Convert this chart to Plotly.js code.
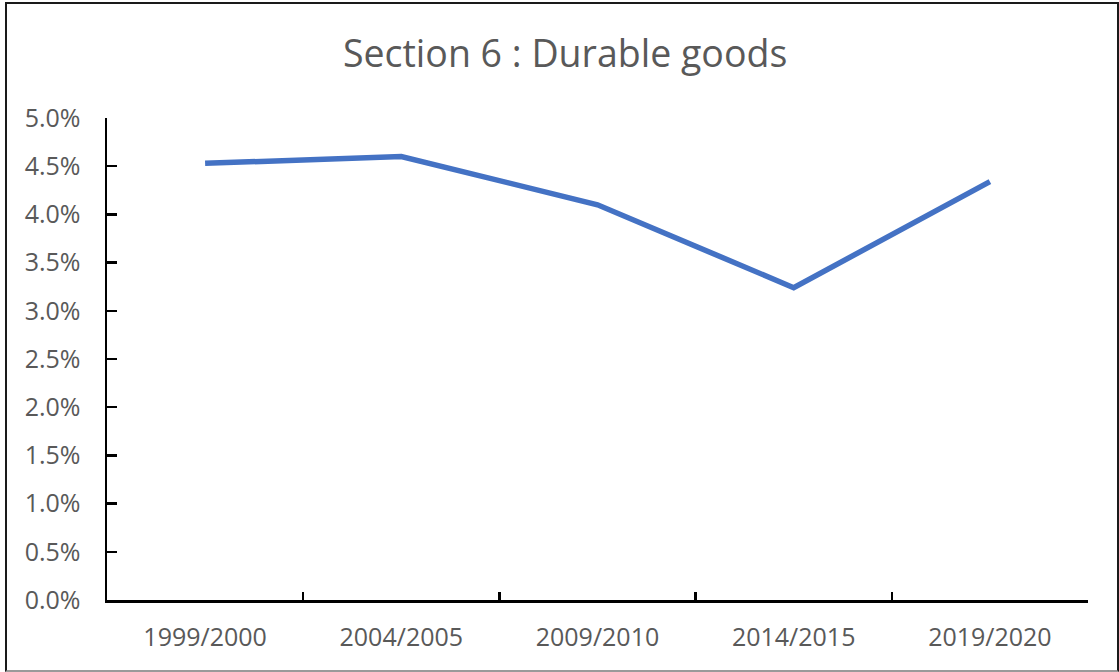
<!DOCTYPE html>
<html>
<head>
<meta charset="utf-8">
<script src="https://cdn.plot.ly/plotly-3.0.1.min.js"></script>
<style>
html,body{margin:0;padding:0;background:#fff;}
#wrap{position:relative;width:1119px;height:672px;}
#chart{position:absolute;left:0;top:0;width:1119px;height:672px;}
#frame{position:absolute;left:5px;top:2px;width:1110px;height:666px;border:2px solid #1a1a1a;border-bottom-color:#9a9a9a;pointer-events:none;box-sizing:content-box;}
</style>
</head>
<body>
<div id="wrap"><div id="chart"></div><div id="frame"></div></div>
<script>
const categories = ["1999/2000", "2004/2005", "2009/2010", "2014/2015", "2019/2020"];
const shareValues = [0.0453, 0.0460, 0.0410, 0.0324, 0.0434];
const chartTitle = "Section 6 : Durable goods";

const trace = {
  type: "scatter",
  mode: "lines",
  x: categories,
  y: shareValues,
  line: {color: "#4472C4", width: 5.5},
  hoverinfo: "x+y"
};

const layout = {
  width: 1119,
  height: 672,
  margin: {l: 107, r: 31, t: 118, b: 72},
  paper_bgcolor: "#ffffff",
  plot_bgcolor: "#ffffff",
  showlegend: false,
  font: {family: "Open Sans, sans-serif", color: "#595959"},
  title: {
    text: chartTitle,
    font: {family: "Open Sans, sans-serif", size: 37.5, color: "#595959"},
    x: 0.505, xanchor: "center", xref: "container",
    y: 1 - 54/672, yanchor: "middle", yref: "container"
  },
  xaxis: {
    type: "category",
    range: [-0.5, 4.5],
    showgrid: false,
    zeroline: false,
    showline: true,
    linecolor: "#000000",
    linewidth: 2.5,
    ticks: "inside",
    tickson: "boundaries",
    ticklen: 8,
    tickwidth: 2.5,
    tickcolor: "#000000",
    ticklabelstandoff: 13,
    tickfont: {family: "Open Sans, sans-serif", size: 25, color: "#595959"}
  },
  yaxis: {
    range: [0, 0.05],
    dtick: 0.005,
    tick0: 0,
    tickformat: ".1%",
    showgrid: false,
    zeroline: false,
    showline: true,
    linecolor: "#000000",
    linewidth: 2.5,
    ticks: "inside",
    ticklen: 10,
    tickwidth: 2.5,
    tickcolor: "#000000",
    ticklabelstandoff: 19,
    tickfont: {family: "Open Sans, sans-serif", size: 25, color: "#595959"}
  }
};

Plotly.newPlot("chart", [trace], layout, {displayModeBar: false, staticPlot: true});
</script>
</body>
</html>
